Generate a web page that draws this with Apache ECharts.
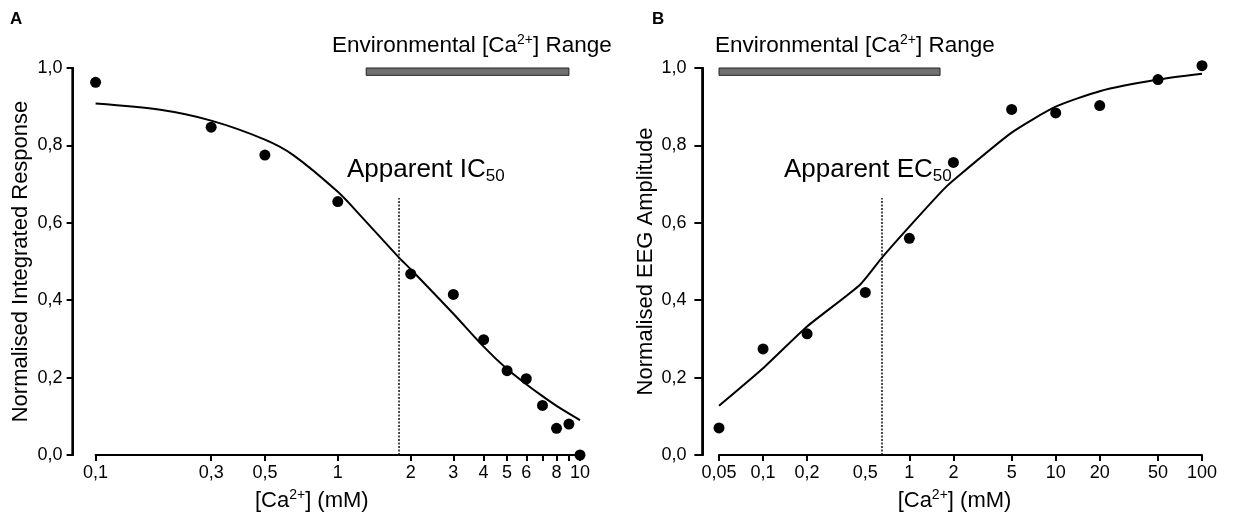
<!DOCTYPE html>
<html><head><meta charset="utf-8">
<script src="https://cdn.jsdelivr.net/npm/echarts@6/dist/echarts.min.js"></script>
<style>html,body{margin:0;padding:0;background:#fff}#c{width:1233px;height:521px}</style>
</head><body><div id="c"></div>
<script>
// ---- Panel A data ----
const caA = [0.1, 0.3, 0.5, 1, 2, 3, 4, 5, 6, 7, 8, 9, 10];
const respA = [0.963, 0.847, 0.775, 0.655, 0.468, 0.415, 0.298, 0.218, 0.197, 0.128, 0.069, 0.080, 0.0];
const fitCaA = [0.1, 0.185, 0.3, 0.5, 0.655, 1, 1.235, 1.79, 2, 3, 4, 5, 6, 7, 8, 10];
const fitRespA = [0.908, 0.892, 0.864, 0.815, 0.775, 0.68, 0.62, 0.51, 0.48, 0.365, 0.28, 0.222, 0.183, 0.152, 0.127, 0.09];
const ic50A = 1.79;
const envRangeA = [1.31, 9.0];
const tickValsA = [0.1, 0.3, 0.5, 1, 2, 3, 4, 5, 6, 7, 8, 9, 10];
const tickLabelsA = [0.1, 0.3, 0.5, 1, 2, 3, 4, 5, 6, 8, 10];

// ---- Panel B data ----
const caB = [0.05, 0.1, 0.2, 0.5, 1, 2, 5, 10, 20, 50, 100];
const ampB = [0.070, 0.274, 0.313, 0.420, 0.560, 0.756, 0.893, 0.884, 0.903, 0.970, 1.006];
const fitCaB = [0.05, 0.1, 0.2, 0.46, 0.65, 1, 1.7, 2, 5, 10, 20, 50, 100];
const fitAmpB = [0.127, 0.224, 0.332, 0.44, 0.51, 0.59, 0.685, 0.71, 0.833, 0.90, 0.94, 0.97, 0.985];
const ec50B = 0.65;
const envRangeB = [0.05, 1.62];
const tickValsB = [0.05, 0.1, 0.2, 1, 2, 5, 10, 20, 50, 100];
const tickLabelsB = [0.05, 0.1, 0.2, 0.5, 1, 2, 5, 10, 20, 50, 100];

// shared
const yRange = [0, 1];
const envBarY = [0.981, 1.004];
const dottedTop = 0.664;

const FONT = '"Liberation Sans", Arial, Helvetica, sans-serif';
const fmtX = v => String(Number(Number(v).toPrecision(6))).replace('.', ',');
const fmtY = v => Number(v).toFixed(1).replace('.', ',');
const rich = {
  sup: {fontSize: 14, fontFamily: FONT, color: '#000', verticalAlign: 'top', lineHeight: 16},
  sub: {fontSize: 17, fontFamily: FONT, color: '#000', verticalAlign: 'bottom', lineHeight: 16}
};
const zip = (a, b) => a.map((v, i) => [v, b[i]]);

// layout (pixels)
const GRID_TOP = 68, GRID_H = 387;
const Y_AXIS_X = [72.6, 702.4];

function xAxis(gi, min, max, ticks, labels, shift) {
  return {
    type: 'log', logBase: 10, gridIndex: gi, min: min, max: max,
    axisLine: {show: true, onZero: false, lineStyle: {color: '#000', width: 2}},
    axisTick: {show: true, length: 6, customValues: ticks, lineStyle: {color: '#000', width: 2}},
    axisLabel: {customValues: labels, formatter: fmtX, fontSize: 18, color: '#000', fontFamily: FONT, margin: 9},
    splitLine: {show: false}, minorTick: {show: false}, minorSplitLine: {show: false},
    name: '[Ca{sup|2+}] (mM)', nameLocation: 'middle', nameGap: 33,
    nameTextStyle: {fontSize: 22, fontFamily: FONT, color: '#000', lineHeight: 26, rich: rich,
                    padding: [0, shift, 0, 0]}
  };
}
function yAxisData(gi) {
  return {type: 'value', gridIndex: gi, min: yRange[0], max: yRange[1], interval: 0.2, show: false};
}
function yAxisShown(gi, name, gap, tickLen, labelMargin) {
  return {
    type: 'value', gridIndex: gi, min: yRange[0], max: yRange[1], interval: 0.2, position: 'left',
    axisLine: {show: true, onZero: false, lineStyle: {color: '#000', width: 2}},
    axisTick: {show: true, length: tickLen, lineStyle: {color: '#000', width: 2}},
    axisLabel: {formatter: fmtY, fontSize: 18, color: '#000', fontFamily: FONT, margin: labelMargin},
    splitLine: {show: false},
    name: name, nameLocation: 'middle', nameGap: gap, nameRotate: 90,
    nameTextStyle: {fontSize: 22, fontFamily: FONT, color: '#000'}
  };
}
function ySpine(ai) {
  return {type: 'line', xAxisIndex: ai, yAxisIndex: ai, data: [[0, yRange[0]], [0, yRange[1]]],
          symbol: 'none', lineStyle: {color: '#000', width: 2}, clip: false, silent: true, z: 5};
}
function envArea(range) {
  return {
    silent: true,
    itemStyle: {color: '#707070', borderColor: '#222', borderWidth: 1, opacity: 1},
    label: {show: false},
    data: [[{coord: [range[0], envBarY[0]]}, {coord: [range[1], envBarY[1]]}]]
  };
}
function spineGraphic(x) {
  return {type: 'line', z: 100, silent: true,
          shape: {x1: x, y1: GRID_TOP - 1, x2: x, y2: GRID_TOP + GRID_H + 1},
          style: {stroke: '#000', lineWidth: 2}};
}

const chart = echarts.init(document.getElementById('c'));
chart.setOption({
  animation: false,
  backgroundColor: '#fff',
  grid: [
    {left: 95.6, top: GRID_TOP, width: 484.4, height: GRID_H},
    {left: 719, top: GRID_TOP, width: 483, height: GRID_H},
    {left: Y_AXIS_X[0], top: GRID_TOP, width: 10, height: GRID_H},
    {left: Y_AXIS_X[1], top: GRID_TOP, width: 10, height: GRID_H}
  ],
  xAxis: [
    xAxis(0, 0.1, 10, tickValsA, tickLabelsA, 52),
    xAxis(1, 0.05, 100, tickValsB, tickLabelsB, 12),
    {type: 'value', gridIndex: 2, min: 0, max: 1, show: false},
    {type: 'value', gridIndex: 3, min: 0, max: 1, show: false}
  ],
  yAxis: [
    yAxisData(0), yAxisData(1),
    yAxisShown(2, 'Normalised Integrated Response', 41, 6, 10),
    yAxisShown(3, 'Normalised EEG Amplitude', 45, 8, 16)
  ],
  series: [
    {type: 'line', xAxisIndex: 0, yAxisIndex: 0, data: zip(fitCaA, fitRespA), symbol: 'none', smooth: 0.3,
     lineStyle: {color: '#000', width: 2}, z: 2, clip: false},
    {type: 'scatter', xAxisIndex: 0, yAxisIndex: 0, data: zip(caA, respA), symbolSize: 11,
     itemStyle: {color: '#000', opacity: 1}, z: 3, clip: false},
    {type: 'line', xAxisIndex: 0, yAxisIndex: 0, data: [[ic50A, 0], [ic50A, dottedTop]], symbol: 'none',
     lineStyle: {color: '#111', width: 1.5, type: [2, 1.5]}, z: 1, clip: false, markArea: envArea(envRangeA)},
    {type: 'line', xAxisIndex: 1, yAxisIndex: 1, data: zip(fitCaB, fitAmpB), symbol: 'none', smooth: 0.2,
     lineStyle: {color: '#000', width: 2}, z: 2, clip: false},
    {type: 'scatter', xAxisIndex: 1, yAxisIndex: 1, data: zip(caB, ampB), symbolSize: 11,
     itemStyle: {color: '#000', opacity: 1}, z: 3, clip: false},
    {type: 'line', xAxisIndex: 1, yAxisIndex: 1, data: [[ec50B, 0], [ec50B, dottedTop]], symbol: 'none',
     lineStyle: {color: '#111', width: 1.5, type: [2, 1.5]}, z: 1, clip: false, markArea: envArea(envRangeB)},
    ySpine(2), ySpine(3)
  ],
  graphic: [
    spineGraphic(Y_AXIS_X[0]), spineGraphic(Y_AXIS_X[1]),
    {type: 'text', left: 10, top: 11, style: {text: 'A', font: 'bold 17px ' + FONT, fill: '#000'}},
    {type: 'text', left: 652, top: 11, style: {text: 'B', font: 'bold 17px ' + FONT, fill: '#000'}},
    {type: 'text', left: 332, top: 33, style: {text: 'Environmental [Ca{sup|2+}] Range', fontSize: 22.5, fontFamily: FONT, fill: '#000', lineHeight: 26, rich: rich}},
    {type: 'text', left: 715, top: 33, style: {text: 'Environmental [Ca{sup|2+}] Range', fontSize: 22.5, fontFamily: FONT, fill: '#000', lineHeight: 26, rich: rich}},
    {type: 'text', left: 347, top: 155, style: {text: 'Apparent IC{sub|50}', fontSize: 26, fontFamily: FONT, fill: '#000', lineHeight: 30, rich: rich}},
    {type: 'text', left: 784, top: 155, style: {text: 'Apparent EC{sub|50}', fontSize: 26, fontFamily: FONT, fill: '#000', lineHeight: 30, rich: rich}}
  ]
});
</script>
</body></html>
